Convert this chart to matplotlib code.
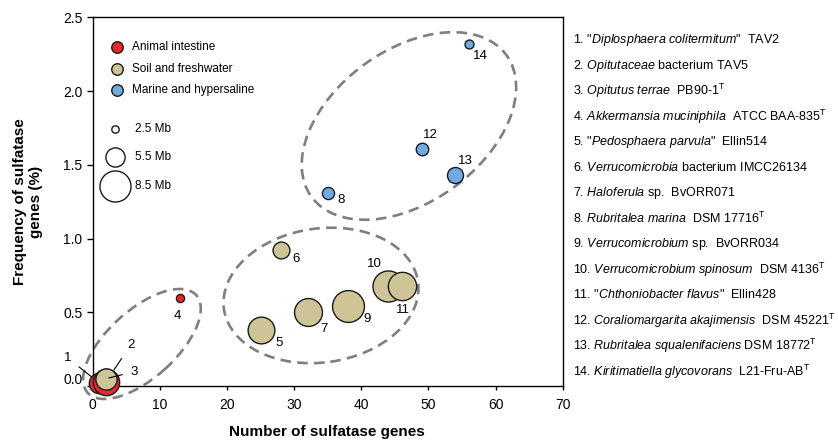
import matplotlib
matplotlib.use("Agg")
import matplotlib.pyplot as plt
from matplotlib.patches import Ellipse
from matplotlib.transforms import Affine2D, ScaledTranslation

plt.rcParams['font.family'] = 'Liberation Sans'
plt.rcParams['mathtext.fontset'] = 'custom'
plt.rcParams['mathtext.rm'] = 'Liberation Sans'
plt.rcParams['mathtext.it'] = 'Liberation Sans:italic'

# data: genome numbers 1..14
labels = [str(i) for i in range(1, 15)]
genes = [1, 2, 2, 13, 25, 28, 32, 35, 38, 44, 46, 49, 54, 56]
freq = [0.02, 0.03, 0.05, 0.60, 0.38, 0.92, 0.50, 1.31, 0.54, 0.68, 0.68, 1.61, 1.43, 2.32]
genome_mb = [5.8, 7.3, 6.0, 2.7, 7.4, 4.9, 7.7, 3.7, 8.7, 8.5, 7.8, 3.8, 4.7, 2.9]
habitat = ['animal', 'animal', 'soil', 'animal', 'soil', 'soil', 'soil', 'marine',
           'soil', 'soil', 'soil', 'marine', 'marine', 'marine']

habitat_names = {'animal': 'Animal intestine', 'soil': 'Soil and freshwater',
                 'marine': 'Marine and hypersaline'}
colors = {'animal': '#E8262B', 'soil': '#CEC497', 'marine': '#6FAAE0'}
size_legend = [2.5, 5.5, 8.5]

species = [
    '"$\\mathit{Diplosphaera\\ colitermitum}$"  TAV2',
    '$\\mathit{Opitutaceae}$ bacterium TAV5',
    '$\\mathit{Opitutus\\ terrae}$  PB90-1$^{\\rm T}$',
    '$\\mathit{Akkermansia\\ muciniphila}$  ATCC BAA-835$^{\\rm T}$',
    '"$\\mathit{Pedosphaera\\ parvula}$"  Ellin514',
    '$\\mathit{Verrucomicrobia}$ bacterium IMCC26134',
    '$\\mathit{Haloferula}$ sp.  BvORR071',
    '$\\mathit{Rubritalea\\ marina}$  DSM 17716$^{\\rm T}$',
    '$\\mathit{Verrucomicrobium}$ sp.  BvORR034',
    '$\\mathit{Verrucomicrobium\\ spinosum}$  DSM 4136$^{\\rm T}$',
    '"$\\mathit{Chthoniobacter\\ flavus}$"  Ellin428',
    '$\\mathit{Coraliomargarita\\ akajimensis}$  DSM 45221$^{\\rm T}$',
    '$\\mathit{Rubritalea\\ squalenifaciens}$ DSM 18772$^{\\rm T}$',
    '$\\mathit{Kiritimatiella\\ glycovorans}$  L21-Fru-AB$^{\\rm T}$',
]

# label offsets (points) and leader line shrink
label_off = [(-22.6, 17.9), (17.7, 26.4), (20.3, 5.0), (-2, -13), (13.2, -9.6),
             (10.8, -6.5), (11.5, -12.2), (9.7, -5.3), (14, -9.1), (-10, 15.4),
             (0.7, -17.5), (6.5, 9.6), (7.2, 9.9), (8.4, -9.1)]
leader = {0: 6.3, 1: 10, 2: 2}


def marker_area(mb):
    d_px = 3.95 * mb - 2.5
    return (d_px * 0.72) ** 2


fig = plt.figure(figsize=(8.38, 4.40), dpi=100)
ax = fig.add_axes([0.1106, 0.1227, 0.5609, 0.838])
ax.set_xlim(0, 70)
ax.set_ylim(0, 2.5)

# dashed group outlines, sized in pixels
ppx = fig.get_figwidth() * fig.dpi * 0.5609 / 70
ppy = fig.get_figheight() * fig.dpi * 0.838 / 2.5
groups = [((7.34, 0.285), 146, 68, 42), ((34.0, 0.614), 196, 134, 8),
          ((47.1, 1.763), 241, 152, 36)]
for (cx, cy), w, h, ang in groups:
    tr = Affine2D().scale(1 / ppx, 1 / ppy).translate(cx, cy) + ax.transData
    e = Ellipse((0, 0), w, h, angle=ang, transform=tr, fill=False,
                edgecolor='#7f7f7f', lw=1.9, linestyle=(0, (4, 2.4)),
                clip_on=False, zorder=1)
    ax.add_patch(e)

for i in range(len(genes)):
    ax.scatter(genes[i], freq[i], s=marker_area(genome_mb[i]),
               color=colors[habitat[i]], edgecolor='#1a1a1a', lw=1,
               zorder=3 + i, clip_on=False)
    dx, dy = label_off[i]
    if i in leader:
        ax.annotate(labels[i], (genes[i], freq[i]), xytext=(dx, dy),
                    textcoords='offset points', ha='center', va='center',
                    fontsize=9.5, annotation_clip=False, zorder=20,
                    arrowprops=dict(arrowstyle='-', color='black', lw=0.8,
                                    shrinkA=4, shrinkB=leader[i]))
    else:
        ax.annotate(labels[i], (genes[i], freq[i]), xytext=(dx, dy),
                    textcoords='offset points', ha='center', va='center',
                    fontsize=9.5, zorder=20)

# habitat legend
for j, key in enumerate(['animal', 'soil', 'marine']):
    yy = [0.9186, 0.859, 0.803][j]
    ax.scatter(0.0523, yy, s=(11.5 * 0.72) ** 2, color=colors[key],
               edgecolor='#1a1a1a', lw=1, transform=ax.transAxes, zorder=5)
    ax.text(0.083, yy, habitat_names[key], transform=ax.transAxes,
            va='center', ha='left', fontsize=8.5)

# genome size legend
for j, mb in enumerate(size_legend):
    yy = [0.697, 0.622, 0.542][j]
    ax.scatter(0.0474, yy, s=marker_area(mb), facecolor='white',
               edgecolor='#1a1a1a', lw=1, transform=ax.transAxes, zorder=5)
    ax.text(0.09, yy, '%.1f Mb' % mb, transform=ax.transAxes,
            va='center', ha='left', fontsize=8.5)

ax.set_xticks(range(0, 71, 10))
ax.set_yticks([0.0, 0.5, 1.0, 1.5, 2.0, 2.5])
ax.set_yticklabels(['0.0', '0.5', '1.0', '1.5', '2.0', '2.5'])
ax.tick_params(axis='x', direction='out', length=3, width=1, labelsize=10, pad=5.5)
ax.tick_params(axis='y', direction='out', length=4, width=1, labelsize=10, pad=3.5)
for sp in ax.spines.values():
    sp.set_linewidth(1.0)

# nudge the 0.0 label up a bit
lab0 = ax.get_yticklabels()[0]
lab0.set_transform(lab0.get_transform() + ScaledTranslation(0, 8 / 100, fig.dpi_scale_trans))

fig.text(327 / 838, 1 - 431.7 / 440, 'Number of sulfatase genes', ha='center',
         va='center', fontsize=11, fontweight='bold')
fig.text(28 / 838, 1 - 202 / 440, 'Frequency of sulfatase\ngenes (%)', ha='center',
         va='center', rotation=90, fontsize=11, fontweight='bold',
         multialignment='center', linespacing=1.25)

# species list
for i, sp_name in enumerate(species):
    y_px = 40 + 25.5 * i
    fig.text(573 / 838, 1 - y_px / 440, '%d. %s' % (i + 1, sp_name),
             ha='left', va='center', fontsize=9)

fig.savefig('out.png', dpi=100)
